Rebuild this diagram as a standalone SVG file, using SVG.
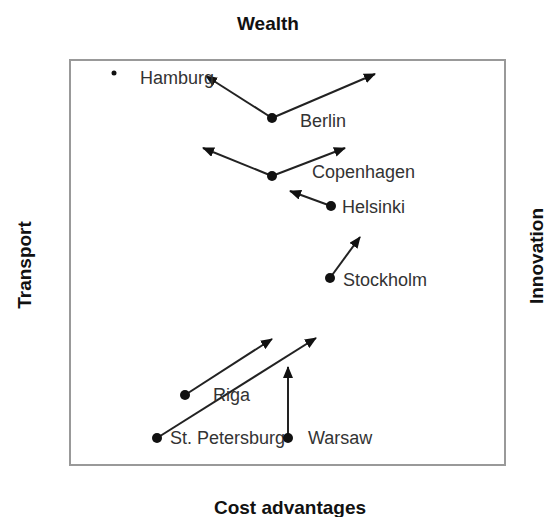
<svg xmlns="http://www.w3.org/2000/svg" width="548" height="517" viewBox="0 0 548 517">
<style>
.lbl{font-family:"Liberation Sans",Arial,sans-serif;font-size:18px;fill:#333}
.axis{font-family:"Liberation Sans",Arial,sans-serif;font-size:19px;font-weight:bold;fill:#111}
.arr{stroke:#222;stroke-width:2;fill:none;marker-end:url(#ah)}
.dot{fill:#111}
</style>
<defs>
<marker id="ah" markerUnits="userSpaceOnUse" markerWidth="12" markerHeight="10" refX="11" refY="5" orient="auto">
<path d="M0,0 L12,5 L0,10 z" fill="#111"/>
</marker>
</defs>
<rect width="548" height="517" fill="#fff"/>
<rect x="70" y="60" width="435" height="405" fill="none" stroke="#999" stroke-width="2"/>
<g id="axes">
<text class="axis" x="268" y="30" text-anchor="middle">Wealth</text>
<text class="axis" x="290" y="514" text-anchor="middle">Cost advantages</text>
<text class="axis" transform="translate(31,265) rotate(-90)" text-anchor="middle">Transport</text>
<text class="axis" transform="translate(543,256) rotate(-90)" text-anchor="middle">Innovation</text>
</g>
<g id="connectors">
<line class="arr" x1="272" y1="118" x2="206" y2="76"/>
<line class="arr" x1="272" y1="118" x2="375" y2="74"/>
<line class="arr" x1="272" y1="176" x2="203" y2="148"/>
<line class="arr" x1="272" y1="176" x2="345" y2="148"/>
<line class="arr" x1="331" y1="206" x2="290" y2="191"/>
<line class="arr" x1="330" y1="278" x2="360" y2="237"/>
<line class="arr" x1="185" y1="395" x2="272" y2="339"/>
<line class="arr" x1="157" y1="438" x2="316" y2="338"/>
<line class="arr" x1="288" y1="438" x2="288" y2="367"/>
</g>
<g id="hamburg"><circle class="dot" cx="114" cy="73" r="2.5"/><text class="lbl" x="140" y="84">Hamburg</text></g>
<g id="berlin"><circle class="dot" cx="272" cy="118" r="5"/><text class="lbl" x="300" y="127">Berlin</text></g>
<g id="copenhagen"><circle class="dot" cx="272" cy="176" r="5"/><text class="lbl" x="312" y="178">Copenhagen</text></g>
<g id="helsinki"><circle class="dot" cx="331" cy="206" r="5"/><text class="lbl" x="342" y="213">Helsinki</text></g>
<g id="stockholm"><circle class="dot" cx="330" cy="278" r="5"/><text class="lbl" x="343" y="286">Stockholm</text></g>
<g id="riga"><circle class="dot" cx="185" cy="395" r="5"/><text class="lbl" x="213" y="401">Riga</text></g>
<g id="stpetersburg"><circle class="dot" cx="157" cy="438" r="5"/><text class="lbl" x="170" y="444">St. Petersburg</text></g>
<g id="warsaw"><circle class="dot" cx="288" cy="438" r="5"/><text class="lbl" x="308" y="444">Warsaw</text></g>
</svg>
